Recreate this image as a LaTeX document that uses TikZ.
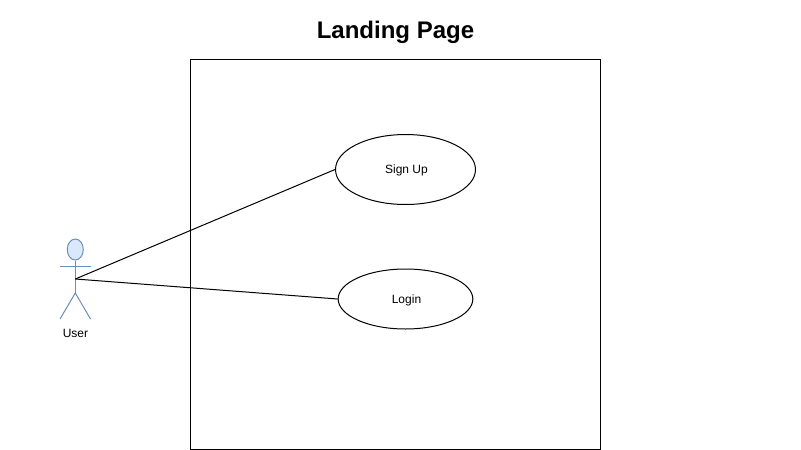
\documentclass[tikz,border=0pt]{standalone}
\usepackage{xcolor}
\usepackage{fontspec}
\setmainfont{Liberation Sans}
\usetikzlibrary{shapes.geometric}
\definecolor{ucBlue}{HTML}{6C8EBF}
\definecolor{ucFill}{HTML}{DAE8FC}

\begin{document}
\begin{tikzpicture}[x=0.75pt, y=-0.75pt, font=\fontsize{9}{11}\selectfont,
    usecase/.style={draw, ellipse, inner sep=0pt, line width=0.75pt, text depth=-1.5pt},
    limb/.style={draw=ucBlue, line width=0.75pt},
    link/.style={draw, line width=0.75pt}]
  \useasboundingbox (0,0) rectangle (801,450);
  \node[font=\bfseries\fontsize{18}{20}\selectfont, text depth=0pt] (title) at (395.5,30) {Landing Page};
  \node[draw, line width=0.75pt, minimum width=307.5pt, minimum height=292.5pt, inner sep=0pt] (page) at (395.5,254) {};
  \node[usecase, minimum width=105pt, minimum height=52.5pt] (signup) at (405.5,169.5) {\hspace{1.5pt}Sign Up};
  \node[usecase, minimum width=101pt, minimum height=45pt] (login) at (405.5,299) {\hspace{1.5pt}Login};
  % actor
  \node[draw=ucBlue, fill=ucFill, ellipse, line width=0.75pt, inner sep=0pt, minimum width=12pt, minimum height=15.75pt] (head) at (75.3,249.5) {};
  \coordinate (hip) at (75.3,293);
  \coordinate (waist) at (75.3,279);
  \coordinate (armL) at (60,266);
  \coordinate (armR) at (90.5,266);
  \coordinate (footL) at (60,319);
  \coordinate (footR) at (90.5,319);
  \draw[limb] (head.south) -- (hip);
  \draw[limb] (armL) -- (armR);
  \draw[limb] (footL) -- (hip) -- (footR);
  \node (user) at (75.5,333.5) {User};
  \draw[link] (waist) -- (signup.west);
  \draw[link] (waist) -- (login.west);
\end{tikzpicture}
\end{document}
